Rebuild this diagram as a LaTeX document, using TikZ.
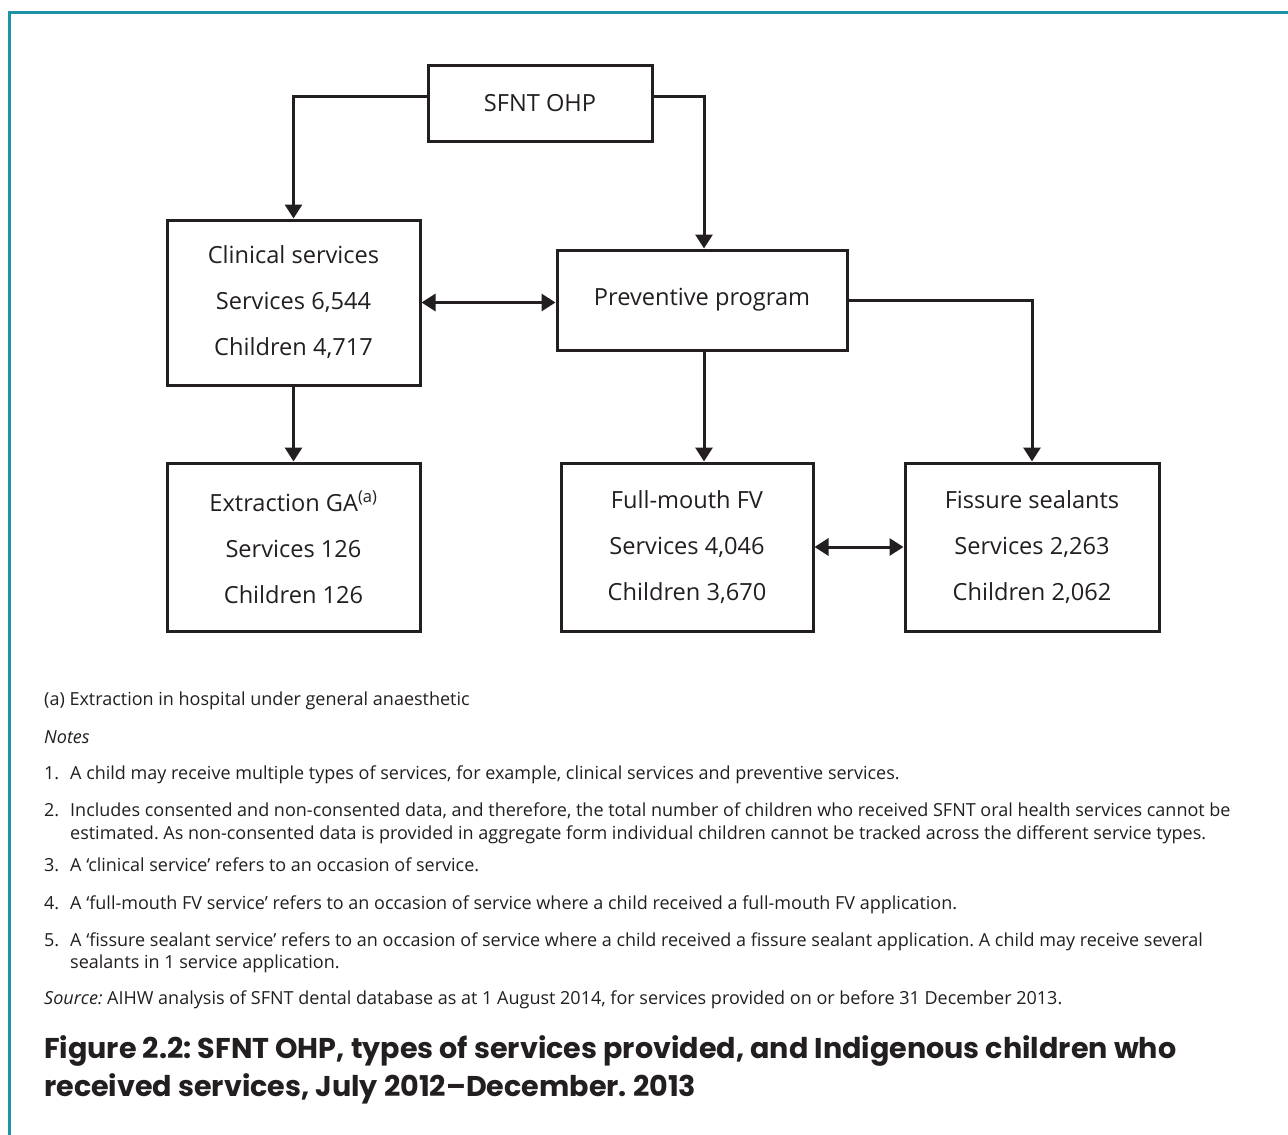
\documentclass[tikz,border=0pt]{standalone}
\usepackage{fontspec}
\setmainfont{Open Sans}
\newfontfamily\titlefont[Ligatures=TeX]{Poppins}
\usetikzlibrary{arrows.meta}
\definecolor{frame}{HTML}{1E93A5}
\definecolor{ink}{HTML}{231F20}
\begin{document}
\frenchspacing
\begin{tikzpicture}[x=1pt,y=-1pt,
  box/.style={draw=ink,line width=3pt,minimum width=#1,align=center,text=ink,inner sep=0pt,
     font=\fontsize{23.6}{46}\selectfont},
  conn/.style={draw=ink,line width=3pt,-{Triangle[length=14pt,width=17pt]}},
  dconn/.style={draw=ink,line width=3pt,{Triangle[length=14pt,width=17pt]}-{Triangle[length=14pt,width=17pt]}},
  note/.style={anchor=base west,inner sep=0pt,text=ink,font=\fontsize{18}{22}\selectfont},
  ttl/.style={anchor=base west,inner sep=0pt,text=ink,font=\titlefont\bfseries\fontsize{28.6}{32}\selectfont}]
\useasboundingbox (0,0) rectangle (1288,1135);
\fill[white] (0,0) rectangle (1288,1135);
\draw[frame,line width=3pt] (9.5,1140) -- (9.5,12) -- (1295,12);

\node[box=224pt,minimum height=76pt] (sfnt) at (540,103) {SFNT OHP};
\node[box=253pt,minimum height=165pt] (clin) at (293.5,302.5) {Clinical services\\Services 6,544\\Children 4,717};
\node[box=290pt,minimum height=100pt] (prev) at (702,300) {Preventive program};
\node[box=253pt,minimum height=168pt] (extr) at (293.5,547) {Extraction GA\textsuperscript{(a)}\\Services 126\\Children 126};
\node[box=252pt,minimum height=168pt] (fv) at (687,547) {Full-mouth FV\\Services 4,046\\Children 3,670};
\node[box=254pt,minimum height=168pt] (fiss) at (1032,547) {Fissure sealants\\Services 2,263\\Children 2,062};

\coordinate (sl) at (428,96);
\coordinate (sr) at (652,96);
\draw[conn] (sl) -| (clin.north);
\draw[conn] (sr) -| ([xshift=2pt]prev.north);
\draw[dconn] (clin.east) -- (prev.west |- clin.east);
\draw[conn] (clin.south) -- (extr.north);
\draw[conn] ([xshift=2pt]prev.south) -- ([xshift=2pt]prev.south |- fv.north);
\draw[conn] (prev.east) -| (fiss.north);
\draw[dconn] (fv.east) -- (fiss.west);

\node[note] (n0) at (44,705) {(a) Extraction in hospital under general anaesthetic};
\node[note] (n1) at (44,743) {\itshape Notes};
\node[note] (k1) at (44,779) {1.};
\node[note] (t1) at (70,779) {A child may receive multiple types of services, for example, clinical services and preventive services.};
\node[note] (k2) at (44,816) {2.};
\node[note] (t2) at (70,816) {Includes consented and non-consented data, and therefore, the total number of children who received SFNT oral health services cannot be};
\node[note] (t2b) at (70,839) {estimated. As non-consented data is provided in aggregate form individual children cannot be tracked across the different service types.};
\node[note] (k3) at (44,871) {3.};
\node[note] (t3) at (70,871) {A `clinical service' refers to an occasion of service.};
\node[note] (k4) at (44,909) {4.};
\node[note] (t4) at (70,909) {A `full-mouth FV service' refers to an occasion of service where a child received a full-mouth FV application.};
\node[note] (k5) at (44,946) {5.};
\node[note] (t5) at (70,946) {A `fissure sealant service' refers to an occasion of service where a child received a fissure sealant application. A child may receive several};
\node[note] (t5b) at (70,968) {sealants in 1 service application.};
\node[note] (src) at (44,1004) {\textit{Source:} AIHW analysis of SFNT dental database as at 1 August 2014, for services provided on or before 31 December 2013.};

\node[ttl] (ti1) at (44,1058) {Figure 2.2: SFNT OHP, types of services provided, and Indigenous children who};
\node[ttl] (ti2) at (44,1096) {received services, July 2012–December. 2013};
\end{tikzpicture}
\end{document}
